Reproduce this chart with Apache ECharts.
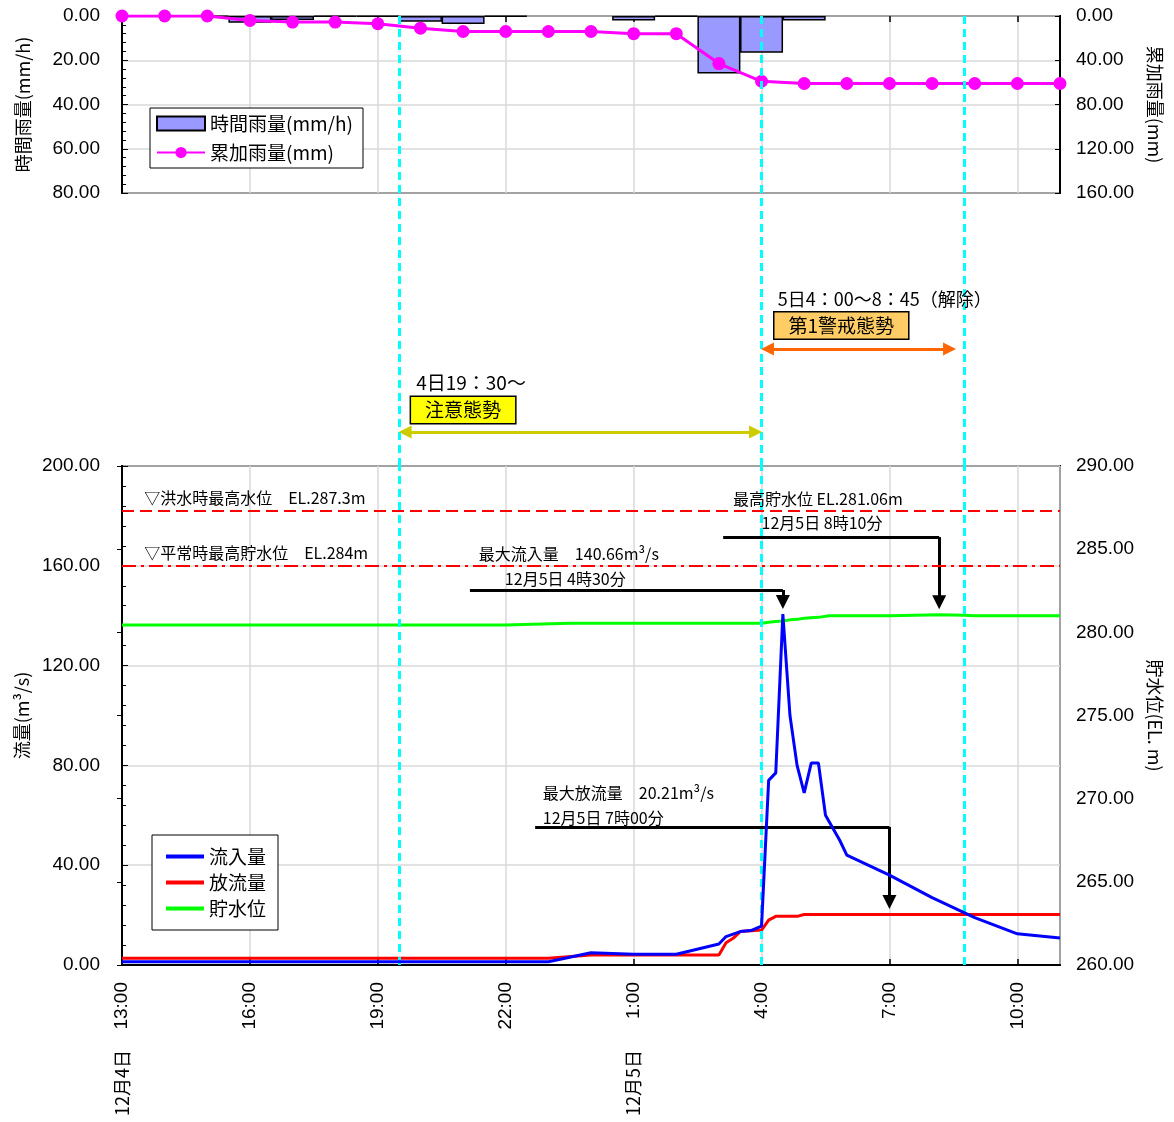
<!DOCTYPE html>
<html><head><meta charset="utf-8">
<script src="https://cdn.jsdelivr.net/npm/echarts@6/dist/echarts.min.js"></script>
<style>html,body{margin:0;padding:0;background:#fff}#c{width:1174px;height:1122px}</style>
</head><body><div id="c"></div>
<script>
// ---------- data ----------
const hourLabels = ['13:00','14:00','15:00','16:00','17:00','18:00','19:00','20:00','21:00','22:00','23:00','0:00',
  '1:00','2:00','3:00','4:00','5:00','6:00','7:00','8:00','9:00','10:00','11:00'];
const hourlyRain = [0,0,0.3,3,1.8,0.3,0.3,2.6,3.6,0.3,0,0,2,0.3,26,16.6,2,0,0,0,0,0,0];
const cumRain    = [0,0,0,4,5.5,5.5,7,11,14,14,14,14,16,16,43,59,61,61,61,61,61,61,61];

const inflowTimes  = ['13:00','23:00','0:00','1:00','2:00','3:00','3:10','3:30','3:45','4:00','4:10','4:20','4:30',
  '4:40','4:50','5:00','5:10','5:20','5:30','5:50','6:00','7:00','8:00','9:00','10:00','11:00'];
const inflowValues = [1.3,1.3,4.9,4.3,4.3,8.4,11.4,13.4,13.8,15.6,74,77,140.66,100,80,69,81,81,60,50,44,36,27,19,12.5,10.8];

const outflowTimes  = ['13:00','23:00','0:00','3:00','3:10','3:20','3:30','4:00','4:10','4:20','4:50','5:00','11:00'];
const outflowValues = [2.7,2.7,4.0,4.0,8.9,10.7,13.4,14,18,19.5,19.5,20.21,20.21];

const levelTimes  = ['13:00','22:00','23:30','4:00','4:10','4:20','4:30','4:40','4:50','5:00','5:10','5:20','5:35',
  '7:00','8:10','8:45','9:00','11:00'];
const levelValues = [280.44,280.44,280.55,280.55,280.6,280.65,280.68,280.75,280.78,280.85,280.88,280.9,281.0,
  281.0,281.06,281.02,281.0,281.0];

const eventTimes = ['19:30','4:00','8:45'];
const floodHWL = 287.3, normalHWL = 284;
const peakInflow = {time:'4:30', value:140.66};
const peakLevel  = {time:'8:10', value:281.06};
const peakOutflow= {time:'7:00', value:20.21};

// ---------- helpers ----------
function toT(s){ const [h,m]=s.split(':').map(Number); return (h>=13? h-13 : h+11) + m/60; }
const pairs = (ts, vs) => ts.map((t,i)=>[toT(t), vs[i]]);
const lvToFlow = v => (v-260)/30*200;

const JP = '"Noto Sans CJK JP", sans-serif';
const NUM = '"Liberation Sans", Arial, sans-serif';
const grey = '#D9D9D9';
const cyan = {color:'#00FFFF', width:3, type:[8,5]};
const cyanLines = eventTimes.map(t=>({xAxis: toT(t)}));

function txt(x, y, s, size){
  return {coord:[x,y], symbol:'circle', symbolSize:0,
    label:{show:true, position:'right', distance:0, formatter:s, color:'#000', fontSize:size||16, fontFamily:JP}};
}
const blk = {color:'#000', width:3, type:'solid'};
function arrowPath(x0, y, x1, yTip){
  return [
    [{coord:[x0,y], symbol:'none', lineStyle:blk},{coord:[x1,y], symbol:'none'}],
    [{coord:[x1,y], symbol:'none', lineStyle:blk},{coord:[x1,yTip], symbol:'triangle', symbolSize:14}]
  ];
}
const arrowIn = 0.14; // half arrowhead, in hours

const xBase = {type:'value', min:0, max:22, interval:3};
const option = {
  animation:false,
  backgroundColor:'#fff',
  textStyle:{fontFamily:NUM},
  grid:[
    {left:122, right:114, top:16, height:177, show:true, borderColor:'#000', borderWidth:2, backgroundColor:'transparent'},
    {left:122, right:114, top:193, height:273, show:false},
    {left:122, right:114, top:466, height:499, show:true, borderColor:'#000', borderWidth:2, backgroundColor:'transparent'}
  ],
  legend:[
    {left:150, top:108, orient:'vertical', itemWidth:48, itemHeight:14, itemGap:10,
     backgroundColor:'#fff', borderColor:'#000', borderWidth:1, padding:[6,10,6,6],
     textStyle:{fontFamily:JP, fontSize:19, color:'#000'},
     data:[{name:'時間雨量(mm/h)', icon:'rect'}, {name:'累加雨量(mm)'}]},
    {left:152, top:835, orient:'vertical', itemWidth:38, itemHeight:4, itemGap:7, icon:'rect',
     backgroundColor:'#fff', borderColor:'#000', borderWidth:1, padding:[12,12,12,14],
     textStyle:{fontFamily:JP, fontSize:19, color:'#000'},
     data:['流入量','放流量','貯水位']}
  ],
  xAxis:[
    Object.assign({}, xBase, {gridIndex:0, position:'top',
      axisLine:{show:false}, axisTick:{show:true, inside:true, length:6, lineStyle:{color:'#000', width:1.5}},
      axisLabel:{show:false}, splitLine:{show:true, lineStyle:{color:grey, width:1.5}}}),
    Object.assign({}, xBase, {gridIndex:1, show:false}),
    Object.assign({}, xBase, {gridIndex:2, position:'bottom',
      axisLine:{show:true, lineStyle:{color:'#000', width:2}},
      axisTick:{show:true, inside:true, length:6, lineStyle:{color:'#000', width:1.5}},
      axisLabel:{rotate:90, margin:17, fontSize:19, color:'#000', fontFamily:NUM, showMinLabel:true, showMaxLabel:false,
        formatter:v=> v>=22 ? '' : ((13+v)%24)+':00'},
      splitLine:{show:true, lineStyle:{color:grey, width:1.5}}}),
    Object.assign({}, xBase, {gridIndex:2, position:'bottom', offset:70,
      axisLine:{show:false}, axisTick:{show:false}, splitLine:{show:false},
      axisLabel:{rotate:90, margin:15, fontSize:18, color:'#000', fontFamily:JP, showMinLabel:true, showMaxLabel:false,
        formatter:v=> v===0?'12月4日':(v===12?'12月5日':'')}})
  ],
  yAxis:[
    {type:'value', gridIndex:0, min:0, max:80, interval:20, inverse:true, position:'left',
     name:'時間雨量(mm/h)', nameLocation:'middle', nameGap:90, nameTextStyle:{fontFamily:JP, fontSize:18, color:'#000'},
     axisLine:{show:true, lineStyle:{color:'#000', width:2}},
     axisTick:{show:true, inside:true, length:6, lineStyle:{color:'#000'}},
     minorTick:{show:true, splitNumber:5, length:4, lineStyle:{color:'#000'}},
     axisLabel:{margin:22, fontSize:19, color:'#000', fontFamily:NUM, formatter:v=>v.toFixed(2), showMinLabel:true, showMaxLabel:true},
     splitLine:{show:true, lineStyle:{color:grey, width:1.5}}},
    {type:'value', gridIndex:0, min:0, max:160, interval:40, inverse:true, position:'right',
     name:'累加雨量(mm)', nameLocation:'middle', nameGap:86, nameRotate:-90, nameTextStyle:{fontFamily:JP, fontSize:18, color:'#000'},
     axisLine:{show:true, lineStyle:{color:'#000', width:2}},
     axisTick:{show:true, inside:true, length:5, lineStyle:{color:'#000'}},
     axisLabel:{margin:16, fontSize:19, color:'#000', fontFamily:NUM, formatter:v=>v.toFixed(2), showMinLabel:true, showMaxLabel:true},
     splitLine:{show:false}},
    {type:'value', gridIndex:1, min:0, max:100, show:false},
    {type:'value', gridIndex:2, min:0, max:200, interval:40, position:'left',
     name:'流量(m³/s)', nameLocation:'middle', nameGap:90, nameTextStyle:{fontFamily:JP, fontSize:18, color:'#000'},
     axisLine:{show:true, lineStyle:{color:'#000', width:2}},
     axisTick:{show:true, inside:true, length:6, lineStyle:{color:'#000'}},
     minorTick:{show:true, splitNumber:5, length:4, lineStyle:{color:'#000'}},
     axisLabel:{margin:22, fontSize:19, color:'#000', fontFamily:NUM, formatter:v=>v.toFixed(2), showMinLabel:true, showMaxLabel:true},
     splitLine:{show:true, lineStyle:{color:grey, width:1.5}}},
    {type:'value', gridIndex:2, min:260, max:290, interval:5, position:'right',
     name:'貯水位(EL. m)', nameLocation:'middle', nameGap:86, nameRotate:-90, nameTextStyle:{fontFamily:JP, fontSize:18, color:'#000'},
     axisLine:{show:true, lineStyle:{color:'#000', width:2}},
     axisTick:{show:true, inside:true, length:5, lineStyle:{color:'#000'}},
     axisLabel:{margin:16, fontSize:19, color:'#000', fontFamily:NUM, formatter:v=>v.toFixed(2), showMinLabel:true, showMaxLabel:true},
     splitLine:{show:false}}
  ],
  series:[
    {name:'時間雨量(mm/h)', type:'bar', xAxisIndex:0, yAxisIndex:0, z:2, barWidth:43,
     data: hourLabels.map((h,i)=>[toT(h), hourlyRain[i] === 0 ? null : hourlyRain[i]]),
     itemStyle:{color:'#9999FF', borderColor:'#000', borderWidth:1.5}},
    {name:'累加雨量(mm)', type:'line', xAxisIndex:0, yAxisIndex:1, z:3,
     data: hourLabels.map((h,i)=>[toT(h), cumRain[i]]),
     symbol:'circle', symbolSize:13, color:'#FF00FF', lineStyle:{color:'#FF00FF', width:3}, itemStyle:{color:'#FF00FF'}},
    {type:'line', xAxisIndex:0, yAxisIndex:0, z:1, data:[], silent:true,
     markLine:{silent:true, symbol:'none', label:{show:false}, lineStyle:cyan, data:cyanLines}},
    {type:'line', xAxisIndex:1, yAxisIndex:2, z:1, data:[], silent:true,
     markLine:{silent:true, symbol:'none', label:{show:false}, lineStyle:cyan,
       data: cyanLines.concat([
         [{coord:[toT(eventTimes[0])+arrowIn,12.5], symbol:'triangle', symbolSize:13, lineStyle:{color:'#CCCC00', width:3, type:'solid'}},
          {coord:[toT(eventTimes[1])-arrowIn,12.5], symbol:'triangle', symbolSize:13}],
         [{coord:[toT(eventTimes[1])+arrowIn,42.9], symbol:'triangle', symbolSize:13, lineStyle:{color:'#FF6600', width:3, type:'solid'}},
          {coord:[toT(eventTimes[2])-0.2-arrowIn,42.9], symbol:'triangle', symbolSize:13}]
       ])},
     markPoint:{silent:true, data:[
       txt(6.9, 30.4, '4日19：30～', 19),
       {coord:[8.0, 20.5], symbol:'circle', symbolSize:0,
        label:{show:true, position:'inside', formatter:'注意態勢', color:'#000', fontSize:19, fontFamily:JP,
          backgroundColor:'#FFFF00', borderColor:'#000', borderWidth:1.5, padding:[4,14,3,14]}},
       txt(15.38, 61.2, '5日4：00～8：45（解除）', 18),
       {coord:[16.87, 51.5], symbol:'circle', symbolSize:0,
        label:{show:true, position:'inside', formatter:'第1警戒態勢', color:'#000', fontSize:19, fontFamily:JP,
          backgroundColor:'#FFCC66', borderColor:'#000', borderWidth:1.5, padding:[4,14,3,14]}}
     ]}},
    {type:'line', xAxisIndex:2, yAxisIndex:3, z:1, data:[], silent:true,
     markLine:{silent:true, symbol:'none', label:{show:false}, lineStyle:cyan, data:cyanLines}},
    {name:'流入量', type:'line', xAxisIndex:2, yAxisIndex:3, z:5, data:pairs(inflowTimes, inflowValues),
     symbol:'none', color:'#0000FF', lineStyle:{color:'#0000FF', width:3},
     markLine:{silent:true, symbol:'none', label:{show:false},
       data:[].concat(
         arrowPath(8.16, 150.3, toT(peakInflow.time), 145.5),
         arrowPath(14.1, 171.5, toT(peakLevel.time), lvToFlow(peakLevel.value)+5),
         arrowPath(9.69, 55.3, toT(peakOutflow.time), peakOutflow.value+5)
       )},
     markPoint:{silent:true, data:[
       txt(0.52, 187.2, '▽洪水時最高水位　EL.'+floodHWL+'m'),
       txt(0.52, 165.1, '▽平常時最高貯水位　EL.'+normalHWL+'m'),
       txt(8.37, 164.7, '最大流入量　'+peakInflow.value.toFixed(2)+'m³/s'),
       txt(8.98, 154.7, '12月5日 4時30分'),
       txt(14.33, 186.8, '最高貯水位 EL.'+peakLevel.value.toFixed(2)+'m'),
       txt(15.0, 177.2, '12月5日 8時10分'),
       txt(9.87, 68.9, '最大放流量　'+peakOutflow.value.toFixed(2)+'m³/s'),
       txt(9.87, 58.9, '12月5日 7時00分')
     ]}},
    {name:'放流量', type:'line', xAxisIndex:2, yAxisIndex:3, z:4, data:pairs(outflowTimes, outflowValues),
     symbol:'none', color:'#FF0000', lineStyle:{color:'#FF0000', width:3}},
    {name:'貯水位', type:'line', xAxisIndex:2, yAxisIndex:4, z:3, data:pairs(levelTimes, levelValues),
     symbol:'none', color:'#00FF00', lineStyle:{color:'#00FF00', width:3},
     markLine:{silent:true, symbol:'none', label:{show:false},
       data:[{yAxis:floodHWL, lineStyle:{color:'#FF0000', width:2, type:[12,6]}},
             {yAxis:normalHWL, lineStyle:{color:'#FF0000', width:2, type:[14,5,3,5]}}]}}
  ]
};
const chart = echarts.init(document.getElementById('c'), null, {renderer:'canvas'});
chart.setOption(option);
</script></body></html>
